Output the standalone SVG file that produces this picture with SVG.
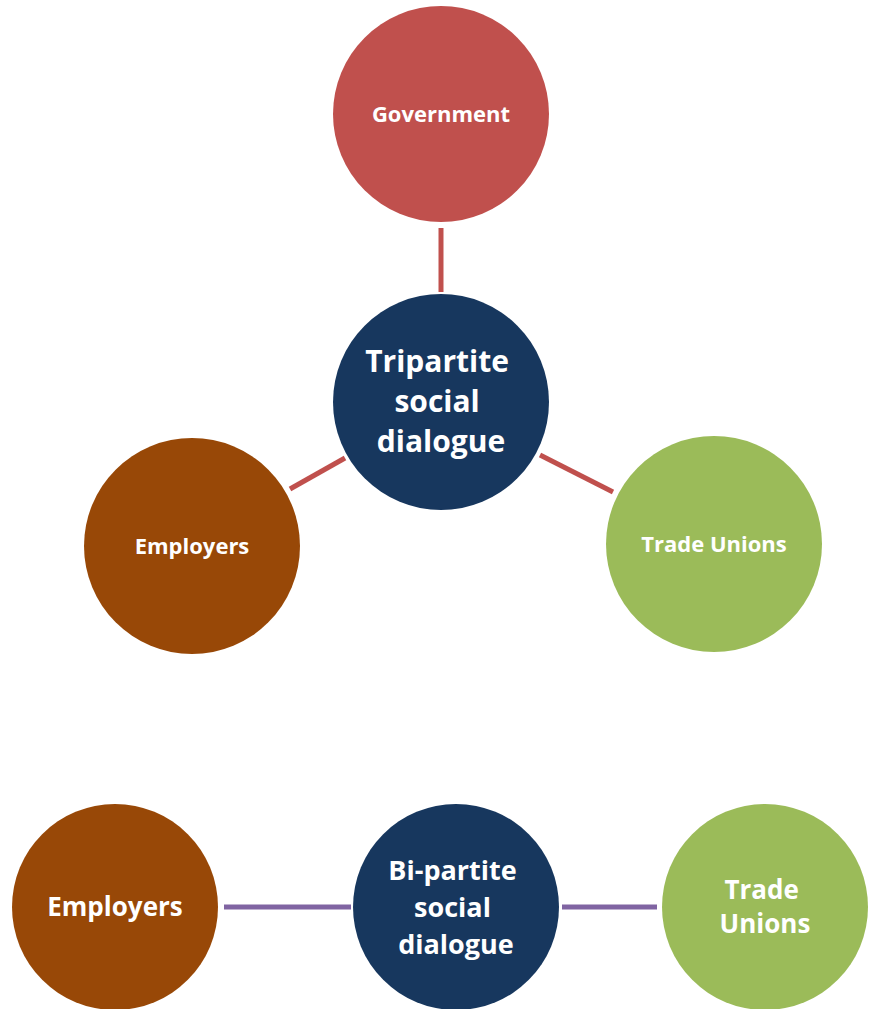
<svg xmlns="http://www.w3.org/2000/svg" width="869" height="1009" viewBox="0 0 869 1009">
  <style>
    .lbl { font-family: "Open Sans", "Liberation Sans", sans-serif; font-weight: bold; fill: #ffffff; text-anchor: middle; }
    .red { stroke: #C0504D; stroke-width: 5; }
    .purple { stroke: #8064A2; stroke-width: 5; }
  </style>
  <rect width="869" height="1009" fill="#ffffff"/>

  <!-- connectors -->
  <g id="connectors">
    <line class="red" x1="441" y1="228" x2="441" y2="292"/>
    <line class="red" x1="290" y1="489" x2="345" y2="458"/>
    <line class="red" x1="540" y1="455" x2="613" y2="492"/>
    <line class="purple" x1="224" y1="907" x2="351" y2="907"/>
    <line class="purple" x1="562" y1="907" x2="657" y2="907"/>
  </g>

  <!-- tripartite cluster -->
  <g id="government">
    <circle cx="441" cy="114" r="108" fill="#C0504D"/>
    <text class="lbl" x="441" y="122" font-size="22">Government</text>
  </g>
  <g id="tripartite">
    <circle cx="441" cy="402" r="108" fill="#17375E"/>
    <text class="lbl" font-size="30">
      <tspan x="441" y="372">Tripartite</tspan>
      <tspan x="441" y="412">social</tspan>
      <tspan x="441" y="452">dialogue</tspan>
    </text>
  </g>
  <g id="employers-top">
    <circle cx="192" cy="546" r="108" fill="#984807"/>
    <text class="lbl" x="192" y="554" font-size="22">Employers</text>
  </g>
  <g id="unions-top">
    <circle cx="714" cy="544" r="108" fill="#9BBB59"/>
    <text class="lbl" x="714" y="552" font-size="22">Trade Unions</text>
  </g>

  <!-- bipartite row -->
  <g id="employers-bottom">
    <circle cx="115" cy="907" r="103" fill="#984807"/>
    <text class="lbl" x="115" y="916" font-size="26">Employers</text>
  </g>
  <g id="bipartite">
    <circle cx="456" cy="907" r="103" fill="#17375E"/>
    <text class="lbl" font-size="27">
      <tspan x="456" y="880">Bi-partite</tspan>
      <tspan x="456" y="917">social</tspan>
      <tspan x="456" y="954">dialogue</tspan>
    </text>
  </g>
  <g id="unions-bottom">
    <circle cx="765" cy="907" r="103" fill="#9BBB59"/>
    <text class="lbl" font-size="26">
      <tspan x="765" y="899">Trade</tspan>
      <tspan x="765" y="933">Unions</tspan>
    </text>
  </g>
</svg>
